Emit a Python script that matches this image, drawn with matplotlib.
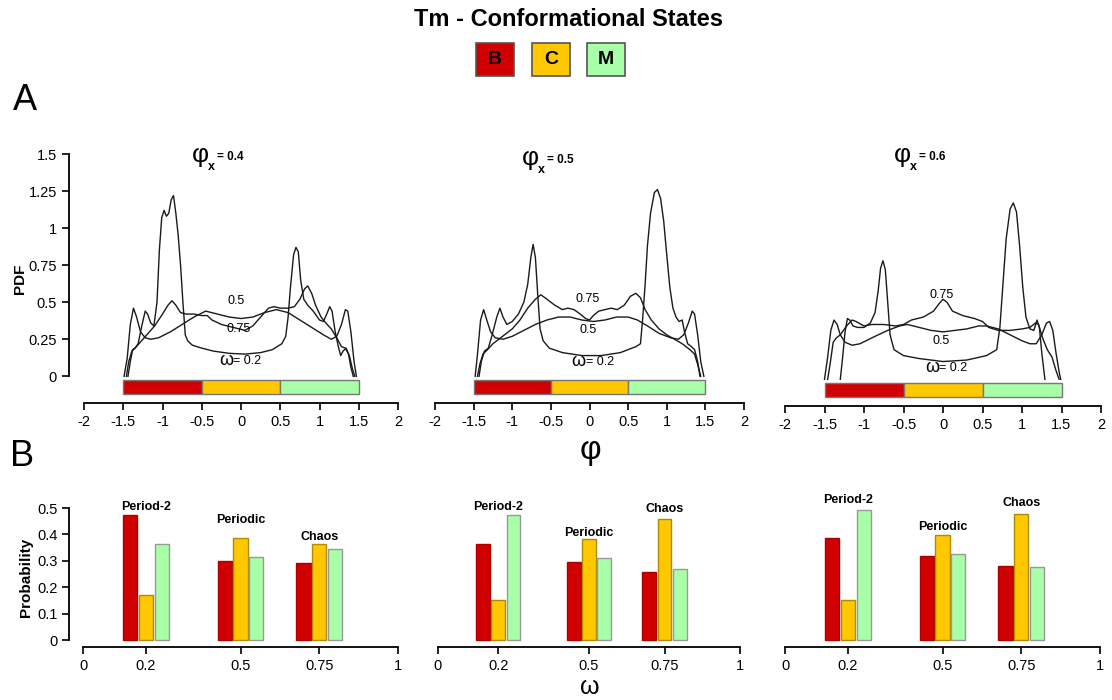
"""
Tm - conformational states: PDF of phi (panel A) and state probabilities (panel B).
"""

import matplotlib
matplotlib.use("Agg")
import matplotlib.pyplot as plt
import matplotlib.patches as mpatches
import numpy as np

plt.rcParams.update({
    "font.family": ["Liberation Sans", "DejaVu Sans"],
    "font.size": 10,
    "axes.linewidth": 1.3,
    "xtick.major.width": 1.2,
    "ytick.major.width": 1.2,
    "xtick.major.size": 5,
    "ytick.major.size": 5,
})

W, H = 1112, 700

STATE_NAMES = ["B", "C", "M"]
STATE_COLORS = ["#d00000", "#ffc800", "#a8ffa8"]
STATE_EDGES = [-1.5, -0.5, 0.5, 1.5]

PHI_X = ["0.4", "0.5", "0.6"]
OMEGAS = [0.2, 0.5, 0.75]
REGIMES = ["Period-2", "Periodic", "Chaos"]

# ---- panel A: PDF(phi) as (phi, pdf) points ----
pdf_04_w02 = [(-1.44, 0.0), (-1.41, 0.10), (-1.38, 0.18), (-1.35, 0.19), (-1.31, 0.22), (-1.26, 0.35),
              (-1.22, 0.44), (-1.19, 0.42), (-1.15, 0.36), (-1.11, 0.34), (-1.07, 0.50), (-1.04, 0.85),
              (-1.01, 1.07), (-0.98, 1.12), (-0.95, 1.08), (-0.92, 1.10), (-0.89, 1.19), (-0.86, 1.22),
              (-0.83, 1.10), (-0.80, 0.95), (-0.77, 0.75), (-0.74, 0.50), (-0.71, 0.28), (-0.68, 0.24),
              (-0.62, 0.21), (-0.5, 0.19), (-0.35, 0.17), (-0.15, 0.155), (0.05, 0.15), (0.25, 0.16),
              (0.4, 0.18), (0.52, 0.22), (0.57, 0.27), (0.6, 0.40), (0.63, 0.60), (0.67, 0.82),
              (0.7, 0.87), (0.73, 0.84), (0.76, 0.65), (0.8, 0.52), (0.85, 0.48), (0.92, 0.44),
              (1.0, 0.38), (1.05, 0.37), (1.1, 0.43), (1.13, 0.47), (1.16, 0.44), (1.2, 0.30),
              (1.24, 0.20), (1.27, 0.14), (1.3, 0.17), (1.34, 0.19), (1.37, 0.15), (1.4, 0.06), (1.43, 0.0)]
pdf_04_w05 = [(-1.49, 0.0), (-1.45, 0.12), (-1.41, 0.35), (-1.37, 0.46), (-1.33, 0.40), (-1.28, 0.30),
              (-1.22, 0.26), (-1.15, 0.25), (-1.05, 0.26), (-0.9, 0.30), (-0.75, 0.35), (-0.6, 0.40),
              (-0.45, 0.44), (-0.3, 0.42), (-0.15, 0.40), (0.0, 0.39), (0.15, 0.40), (0.3, 0.43),
              (0.45, 0.45), (0.6, 0.43), (0.75, 0.38), (0.9, 0.33), (1.05, 0.28), (1.15, 0.25),
              (1.22, 0.27), (1.28, 0.35), (1.33, 0.45), (1.36, 0.44), (1.40, 0.30), (1.44, 0.10), (1.47, 0.0)]
pdf_04_w075 = [(-1.46, 0.0), (-1.43, 0.10), (-1.39, 0.17), (-1.35, 0.19), (-1.3, 0.22), (-1.2, 0.28),
               (-1.1, 0.34), (-1.0, 0.42), (-0.93, 0.48), (-0.88, 0.51), (-0.83, 0.48), (-0.77, 0.43),
               (-0.7, 0.42), (-0.6, 0.42), (-0.5, 0.41), (-0.43, 0.41), (-0.37, 0.38), (-0.25, 0.35),
               (-0.1, 0.33), (0.05, 0.31), (0.15, 0.34), (0.25, 0.40), (0.35, 0.46), (0.42, 0.47),
               (0.5, 0.46), (0.6, 0.46), (0.68, 0.47), (0.75, 0.52), (0.81, 0.59), (0.85, 0.61),
               (0.9, 0.56), (0.95, 0.48), (1.02, 0.40), (1.08, 0.36), (1.15, 0.32), (1.22, 0.26),
               (1.28, 0.20), (1.33, 0.19), (1.38, 0.14), (1.42, 0.05), (1.45, 0.0)]

pdf_05_w02 = [(-1.43, 0.0), (-1.40, 0.10), (-1.36, 0.17), (-1.31, 0.19), (-1.26, 0.28), (-1.2, 0.40),
              (-1.16, 0.46), (-1.12, 0.40), (-1.07, 0.35), (-1.0, 0.37), (-0.92, 0.42), (-0.85, 0.50),
              (-0.8, 0.62), (-0.76, 0.80), (-0.73, 0.89), (-0.70, 0.80), (-0.67, 0.55), (-0.64, 0.32),
              (-0.6, 0.24), (-0.52, 0.19), (-0.35, 0.16), (-0.1, 0.14), (0.15, 0.14), (0.4, 0.16),
              (0.6, 0.20), (0.66, 0.22), (0.69, 0.40), (0.72, 0.62), (0.75, 0.88), (0.79, 1.10),
              (0.84, 1.24), (0.88, 1.26), (0.92, 1.20), (0.96, 1.05), (1.0, 0.82), (1.04, 0.60),
              (1.08, 0.46), (1.12, 0.40), (1.16, 0.37), (1.2, 0.38), (1.23, 0.30), (1.27, 0.22),
              (1.32, 0.20), (1.36, 0.18), (1.4, 0.10), (1.43, 0.0)]
pdf_05_w05 = [(-1.48, 0.0), (-1.45, 0.15), (-1.41, 0.38), (-1.37, 0.45), (-1.33, 0.38), (-1.28, 0.30),
              (-1.22, 0.26), (-1.12, 0.25), (-1.0, 0.27), (-0.85, 0.31), (-0.7, 0.35), (-0.55, 0.38),
              (-0.4, 0.40), (-0.25, 0.40), (-0.1, 0.38), (0.05, 0.37), (0.2, 0.38), (0.35, 0.40),
              (0.5, 0.40), (0.62, 0.38), (0.75, 0.34), (0.9, 0.29), (1.05, 0.26), (1.15, 0.25),
              (1.22, 0.28), (1.28, 0.36), (1.33, 0.44), (1.36, 0.42), (1.4, 0.28), (1.44, 0.10), (1.48, 0.0)]
pdf_05_w075 = [(-1.45, 0.0), (-1.42, 0.08), (-1.38, 0.15), (-1.32, 0.18), (-1.25, 0.22), (-1.15, 0.26),
               (-1.0, 0.32), (-0.9, 0.38), (-0.8, 0.46), (-0.7, 0.52), (-0.63, 0.55), (-0.55, 0.52),
               (-0.45, 0.48), (-0.35, 0.45), (-0.28, 0.46), (-0.2, 0.45), (-0.12, 0.42), (-0.05, 0.39),
               (0.0, 0.38), (0.05, 0.41), (0.12, 0.44), (0.2, 0.45), (0.28, 0.46), (0.36, 0.45),
               (0.45, 0.48), (0.53, 0.54), (0.6, 0.56), (0.66, 0.53), (0.72, 0.45), (0.8, 0.38),
               (0.9, 0.32), (1.0, 0.28), (1.1, 0.25), (1.2, 0.22), (1.3, 0.18), (1.36, 0.15),
               (1.4, 0.08), (1.44, 0.0)]

pdf_06_w02 = [(-1.30, 0.0), (-1.27, 0.15), (-1.24, 0.32), (-1.21, 0.41), (-1.18, 0.40), (-1.14, 0.36),
              (-1.08, 0.35), (-1.0, 0.35), (-0.92, 0.38), (-0.86, 0.45), (-0.82, 0.60), (-0.79, 0.75),
              (-0.76, 0.80), (-0.73, 0.74), (-0.70, 0.52), (-0.67, 0.30), (-0.62, 0.20), (-0.5, 0.16),
              (-0.3, 0.14), (0.0, 0.12), (0.3, 0.13), (0.55, 0.16), (0.68, 0.20), (0.72, 0.35),
              (0.76, 0.65), (0.8, 0.95), (0.85, 1.15), (0.89, 1.19), (0.93, 1.13), (0.97, 0.90),
              (1.01, 0.62), (1.05, 0.42), (1.1, 0.34), (1.15, 0.33), (1.19, 0.40), (1.22, 0.35),
              (1.25, 0.18), (1.29, 0.0)]
pdf_06_w05 = [(-1.50, 0.0), (-1.46, 0.15), (-1.42, 0.33), (-1.38, 0.40), (-1.34, 0.37), (-1.30, 0.30),
              (-1.24, 0.25), (-1.15, 0.23), (-1.05, 0.24), (-0.9, 0.28), (-0.7, 0.33), (-0.55, 0.36),
              (-0.45, 0.37), (-0.3, 0.35), (-0.15, 0.33), (0.0, 0.32), (0.15, 0.33), (0.3, 0.34),
              (0.45, 0.36), (0.55, 0.36), (0.7, 0.34), (0.85, 0.30), (1.0, 0.26), (1.1, 0.24),
              (1.18, 0.24), (1.25, 0.30), (1.31, 0.38), (1.35, 0.39), (1.39, 0.33), (1.43, 0.18),
              (1.47, 0.05), (1.49, 0.0)]
pdf_06_w075 = [(-1.46, 0.0), (-1.43, 0.10), (-1.39, 0.25), (-1.35, 0.28), (-1.30, 0.30), (-1.22, 0.36),
               (-1.15, 0.40), (-1.1, 0.39), (-1.0, 0.36), (-0.9, 0.37), (-0.75, 0.37), (-0.6, 0.36),
               (-0.5, 0.37), (-0.4, 0.40), (-0.25, 0.42), (-0.12, 0.46), (-0.05, 0.51), (0.0, 0.54),
               (0.05, 0.52), (0.12, 0.46), (0.25, 0.43), (0.4, 0.41), (0.5, 0.39), (0.58, 0.35),
               (0.7, 0.33), (0.85, 0.33), (1.0, 0.34), (1.1, 0.35), (1.17, 0.38), (1.21, 0.37),
               (1.26, 0.28), (1.32, 0.20), (1.38, 0.15), (1.43, 0.06), (1.47, 0.0)]

PDF_CURVES = [
    [pdf_04_w02, pdf_04_w05, pdf_04_w075],
    [pdf_05_w02, pdf_05_w05, pdf_05_w075],
    [pdf_06_w02, pdf_06_w05, pdf_06_w075],
]

# curve labels per panel: (x, y) of "0.5", "0.75", "omega = 0.2"
LABEL_POS = [
    {"0.5": (-0.06, 0.51), "0.75": (-0.03, 0.32), "w": (-0.07, 0.11)},
    {"0.5": (-0.02, 0.31), "0.75": (-0.02, 0.52), "w": (-0.02, 0.10)},
    {"0.5": (-0.02, 0.26), "0.75": (-0.02, 0.57), "w": (-0.02, 0.08)},
]

# ---- panel B: state probabilities, rows B, C, M; columns omega = 0.2, 0.5, 0.75 ----
prob_04 = {"B": [0.475, 0.301, 0.293], "C": [0.169, 0.388, 0.365], "M": [0.363, 0.316, 0.346]}
prob_05 = {"B": [0.365, 0.296, 0.256], "C": [0.151, 0.382, 0.460], "M": [0.474, 0.311, 0.268]}
prob_06 = {"B": [0.388, 0.317, 0.280], "C": [0.151, 0.399, 0.479], "M": [0.494, 0.325, 0.275]}
PROBS = [prob_04, prob_05, prob_06]

REGIME_LABEL_Y = [[0.505, 0.455, 0.39], [0.505, 0.405, 0.496], [0.53, 0.428, 0.519]]


def fig_rect(x0, x1, ybot, ytop):
    """pixel box -> figure fraction rect"""
    return [x0 / W, (H - ybot) / H, (x1 - x0) / W, (ybot - ytop) / H]


fig = plt.figure(figsize=(W / 100, H / 100), dpi=100)

# title and state legend
fig.text(568 / W, 1 - 20 / H, "Tm - Conformational States", ha="center", va="center",
         fontsize=17, fontweight="bold")
for name, color, cx in zip(STATE_NAMES, STATE_COLORS, [495, 551, 606]):
    fig.patches.append(mpatches.Rectangle(((cx - 19) / W, 1 - 76 / H), 38 / W, 33 / H,
                                          transform=fig.transFigure, facecolor=color,
                                          edgecolor="#555555", linewidth=1.2))
    fig.text(cx / W, 1 - 60 / H, name, ha="center", va="center", fontsize=14, fontweight="bold")

fig.text(25 / W, 1 - 100 / H, "A", ha="center", va="center", fontsize=26,
         family=["Liberation Sans Narrow", "Liberation Sans"])
fig.text(22 / W, 1 - 456 / H, "B", ha="center", va="center", fontsize=26,
         family=["Liberation Sans Narrow", "Liberation Sans"])

# ---- panel A ----
a_boxes = [(84, 398, 403, 154), (435, 744, 403, 154), (785, 1101, 406, 157)]
title_pos = [(200, 155), (530, 158), (902, 155)]
xt = np.arange(-2, 2.01, 0.5)
for i, (box, curves) in enumerate(zip(a_boxes, PDF_CURVES)):
    ax = fig.add_axes(fig_rect(*box))
    for pts in curves:
        pts = np.array(pts)
        ax.plot(pts[:, 0], pts[:, 1], color="#1a1a1a", linewidth=1.0)
    lefts = STATE_EDGES[:-1]
    widths = np.diff(STATE_EDGES)
    ax.barh([-0.07] * 3, widths, left=lefts, height=0.095, color=STATE_COLORS,
            edgecolor="#777777", linewidth=1.0)
    lp = LABEL_POS[i]
    ax.text(*lp["0.5"], "0.5", ha="center", va="center", fontsize=9)
    ax.text(*lp["0.75"], "0.75", ha="center", va="center", fontsize=9)
    ax.text(lp["w"][0] - 0.12, lp["w"][1], "ω", ha="center", va="center", fontsize=13)
    ax.text(lp["w"][0] - 0.03, lp["w"][1] - 0.005, "= 0.2", ha="left", va="center", fontsize=9)

    ax.set_xlim(-2, 2)
    ax.set_ylim(-0.18, 1.5)
    ax.set_xticks(xt)
    ax.set_xticklabels([f"{v:g}" for v in xt], fontsize=10.5)
    ax.spines[["top", "right"]].set_visible(False)
    if i == 0:
        ax.spines["left"].set_position(("outward", 11))
        ax.spines["left"].set_bounds(0, 1.5)
        ax.set_yticks([0, 0.25, 0.5, 0.75, 1, 1.25, 1.5])
        ax.set_yticklabels(["0", "0.25", "0.5", "0.75", "1", "1.25", "1.5"], fontsize=10.5)
        ax.set_ylabel("PDF", fontsize=11, fontweight="bold", labelpad=1)
    else:
        ax.spines["left"].set_visible(False)
        ax.set_yticks([])
    ax.patch.set_alpha(0)

    # panel title: phi with bold subscript x, then "= value"
    tx, ty = title_pos[i]
    fig.text(tx / W, 1 - ty / H, "φ", ha="center", va="center", fontsize=19)
    fig.text((tx + 11.5) / W, 1 - (ty + 12) / H, "x", ha="center", va="center", fontsize=9,
             fontweight="bold")
    fig.text((tx + 17) / W, 1 - (ty + 2) / H, "= " + PHI_X[i], ha="left", va="center",
             fontsize=8.5, fontweight="bold")

fig.text(590 / W, 1 - 451 / H, "φ", ha="center", va="center", fontsize=24)

# ---- panel B ----
b_boxes = [(83, 398, 647, 508), (438, 740, 647, 508), (785, 1100, 647, 508)]
offsets = [-0.05, 0.0, 0.05]
bar_w = 0.046
for i, (box, probs) in enumerate(zip(b_boxes, PROBS)):
    ax = fig.add_axes(fig_rect(*box))
    for name, color, off in zip(STATE_NAMES, STATE_COLORS, offsets):
        edge = "#999999" if name == "M" else ("#b08a00" if name == "C" else "#aa0000")
        ax.bar(np.array(OMEGAS) + off, probs[name], width=bar_w, color=color,
               edgecolor=edge, linewidth=1.0)
    for om, lab, ly in zip(OMEGAS, REGIMES, REGIME_LABEL_Y[i]):
        ax.text(om, ly, lab, ha="center", va="center", fontsize=9, fontweight="bold",
                clip_on=False)
    ax.set_xlim(0, 1)
    ax.set_ylim(-0.0265, 0.5)
    ax.set_xticks([0, 0.2, 0.5, 0.75, 1])
    ax.set_xticklabels(["0", "0.2", "0.5", "0.75", "1"], fontsize=10.5)
    ax.spines[["top", "right"]].set_visible(False)
    if i == 0:
        ax.spines["left"].set_position(("outward", 10))
        ax.spines["left"].set_bounds(0, 0.5)
        ax.set_yticks([0, 0.1, 0.2, 0.3, 0.4, 0.5])
        ax.set_yticklabels(["0", "0.1", "0.2", "0.3", "0.4", "0.5"], fontsize=10.5)
        ax.set_ylabel("Probability", fontsize=11, fontweight="bold", labelpad=3)
    else:
        ax.spines["left"].set_visible(False)
        ax.set_yticks([])
    ax.patch.set_alpha(0)

fig.text(590 / W, 0.5 / H, "ω", ha="center", va="bottom", fontsize=18)

fig.savefig("out.png", dpi=100)
plt.close(fig)
